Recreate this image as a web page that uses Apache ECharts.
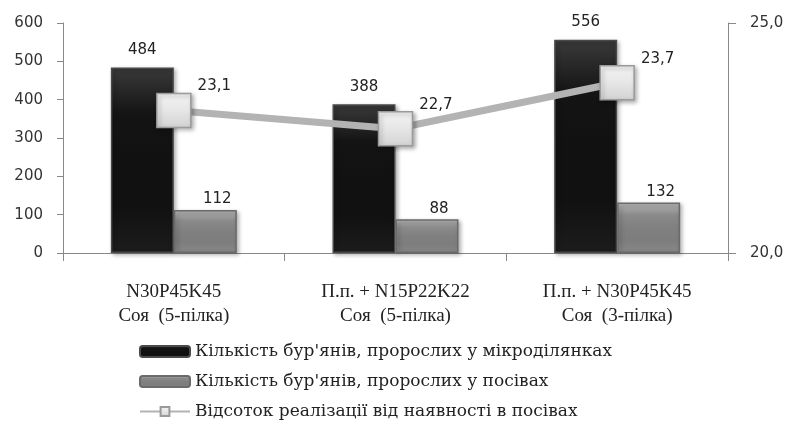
<!DOCTYPE html>
<html>
<head>
<meta charset="utf-8">
<script src="https://cdn.jsdelivr.net/npm/echarts@6/dist/echarts.min.js"></script>
<style>
  html, body { margin: 0; padding: 0; background: #fff; }
  #chart { width: 793px; height: 425px; }
</style>
</head>
<body>
<div id="chart"></div>
<script>
// Weed counts per treatment and share realised in crops
const categories = [
  'N30P45K45\nСоя  (5-пілка)',
  'П.п. + N15P22K22\nСоя  (5-пілка)',
  'П.п. + N30P45K45\nСоя  (3-пілка)'
];
const seriesNames = [
  "Кількість бур'янів, пророслих у мікроділянках",
  "Кількість бур'янів, пророслих у посівах",
  'Відсоток реалізації від наявності в посівах'
];
const microplotWeeds = [484, 388, 556];
const cropWeeds = [112, 88, 132];
const realisationPct = [23.1, 22.7, 23.7];
const leftTicks = [0, 100, 200, 300, 400, 500, 600];
const rightTicks = [20, 25];

const numFont = 'DejaVu Sans';
const serifFont = 'Liberation Serif';
const legendFont = 'DejaVu Serif';

const chart = echarts.init(document.getElementById('chart'));

function vGrad(stops) {
  return new echarts.graphic.LinearGradient(0, 0, 0, 1,
    stops.map((c, i) => ({ offset: i / (stops.length - 1), color: c })));
}

chart.setOption({
  animation: false,
  backgroundColor: '#ffffff',
  grid: { left: 63, right: 65, top: 23, bottom: 172 },
  legend: {
    orient: 'vertical',
    left: 134,
    top: 338,
    itemGap: 13,
    itemWidth: 50,
    itemHeight: 11,
    textStyle: { fontFamily: legendFont, fontSize: 17, color: '#222' },
    data: seriesNames
  },
  xAxis: {
    type: 'category',
    data: categories,
    axisLine: { lineStyle: { color: '#888', width: 1 } },
    axisTick: { show: true, length: 8, lineStyle: { color: '#888' } },
    axisLabel: {
      margin: 27,
      fontFamily: serifFont,
      fontSize: 19,
      lineHeight: 24,
      color: '#222'
    }
  },
  yAxis: [
    {
      type: 'value',
      min: leftTicks[0],
      max: leftTicks[leftTicks.length - 1],
      interval: 100,
      splitLine: { show: false },
      axisLine: { show: true, lineStyle: { color: '#888' } },
      axisTick: { show: true, length: 6, lineStyle: { color: '#888' } },
      axisLabel: { margin: 20, fontFamily: numFont, fontSize: 15, color: '#333' }
    },
    {
      type: 'value',
      min: rightTicks[0],
      max: rightTicks[1],
      interval: 5,
      position: 'right',
      splitLine: { show: false },
      axisLine: { show: true, lineStyle: { color: '#888' } },
      axisTick: { show: true, length: 8, lineStyle: { color: '#888' } },
      axisLabel: {
        margin: 22,
        fontFamily: numFont,
        fontSize: 15,
        color: '#333',
        formatter: v => v.toFixed(1).replace('.', ',')
      }
    }
  ],
  series: [
    {
      name: seriesNames[0],
      type: 'bar',
      data: microplotWeeds,
      barWidth: 63,
      barGap: '0%',
      itemStyle: {
        color: vGrad(['#3a3a3a', '#141414', '#111111', '#111111', '#1c1c1c']),
        borderColor: '#4a4a4a',
        borderWidth: 1.5,
        shadowColor: 'rgba(0,0,0,0.3)',
        shadowBlur: 4,
        shadowOffsetX: 2,
        shadowOffsetY: 2
      },
      label: {
        show: true,
        position: 'top',
        distance: 10,
        fontFamily: numFont,
        fontSize: 15,
        color: '#222'
      }
    },
    {
      name: seriesNames[1],
      type: 'bar',
      data: cropWeeds,
      barWidth: 63,
      barGap: '0%',
      itemStyle: {
        color: vGrad(['#b8b8b8', '#8a8a8a', '#808080', '#7d7d7d', '#888888']),
        borderColor: '#6a6a6a',
        borderWidth: 1.5,
        shadowColor: 'rgba(0,0,0,0.3)',
        shadowBlur: 4,
        shadowOffsetX: 2,
        shadowOffsetY: 2
      },
      label: {
        show: true,
        position: 'top',
        distance: 3,
        offset: [12, 0],
        fontFamily: numFont,
        fontSize: 15,
        color: '#222'
      }
    },
    {
      name: seriesNames[2],
      type: 'line',
      yAxisIndex: 1,
      data: realisationPct,
      z: 5,
      symbol: 'rect',
      symbolSize: 34,
      lineStyle: { color: '#b3b3b3', width: 7 },
      itemStyle: {
        color: vGrad(['#f4f4f4', '#e6e6e6', '#d2d2d2']),
        borderColor: '#9a9a9a',
        borderWidth: 1.5,
        shadowColor: 'rgba(0,0,0,0.3)',
        shadowBlur: 4,
        shadowOffsetX: 2,
        shadowOffsetY: 2
      },
      label: {
        show: true,
        position: 'right',
        distance: 6,
        offset: [0, -24],
        fontFamily: numFont,
        fontSize: 15,
        color: '#222',
        formatter: p => p.value.toFixed(1).replace('.', ',')
      }
    }
  ]
});
</script>
</body>
</html>
